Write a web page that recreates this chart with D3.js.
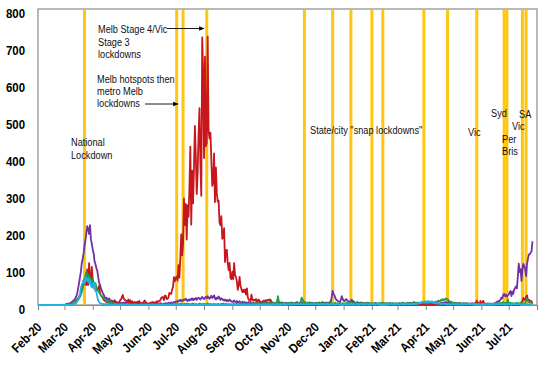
<!DOCTYPE html>
<html><head><meta charset="utf-8">
<script src="https://cdn.jsdelivr.net/npm/d3@7"></script>
<style>
html,body{margin:0;padding:0;background:#fff;}
svg{display:block;}
</style></head><body>
<svg id="chart" width="548" height="366"></svg>
<script>
// ---- DATA (daily new cases, one inner array per month) ----
const months = ["2020-02","2020-03","2020-04","2020-05","2020-06","2020-07","2020-08","2020-09","2020-10","2020-11","2020-12","2021-01","2021-02","2021-03","2021-04","2021-05","2021-06","2021-07"];

const nswDaily = [
[0,0,0,0,0,0,0,0,0,0,0,0,0,0,0,0,0,0,0,0,0,0,0,0,0,0,0,1,0],
[0,1,2,3,4,3,5,6,8,10,12,15,18,24,32,45,59,75,90,113,125,140,160,175,195,213,205,192,216,178,165],
[150,140,118,110,100,92,76,60,55,45,38,32,28,22,18,20,15,14,18,12,10,12,8,10,7,6,9,5,7,6],
[5,4,6,3,7,5,4,8,6,5,3,4,6,5,4,3,5,7,4,3,5,4,6,3,2,4,3,5,4,3,2],
[3,2,4,3,2,5,3,4,2,3,4,2,3,5,4,3,2,4,3,5,4,3,6,4,5,7,5,6,8,7],
[9,10,8,12,11,14,10,13,12,15,14,17,13,11,15,12,16,14,18,13,17,15,19,14,18,20,17,15,19,22,18],
[16,20,22,18,24,20,17,21,25,19,22,26,18,15,20,17,23,19,14,18,16,13,15,12,14,10,13,11,15,12,9],
[10,8,12,9,7,11,6,8,10,7,5,9,6,8,4,7,5,6,8,4,5,7,3,6,4,5,3,6,4,5],
[4,6,3,5,7,4,8,5,6,3,4,7,5,9,6,4,5,3,6,8,4,5,7,3,4,6,5,3,4,6,5],
[4,6,3,5,7,4,5,3,6,4,8,5,3,6,4,5,7,3,4,6,5,3,4,6,7,5,4,6,3,5],
[4,6,5,3,7,4,6,5,8,4,6,5,7,4,6,5,8,10,22,38,30,26,18,14,12,10,9,8,14,24,16],
[12,10,14,16,12,10,8,9,12,14,8,10,7,5,6,8,4,6,5,7,3,5,6,4,5,3,6,4,5,3,4],
[3,4,2,5,3,4,3,2,4,3,5,2,3,4,2,3,5,3,4,2,3,4,3,5,2,3,4,3],
[4,3,5,2,4,6,3,5,4,3,2,4,5,3,6,4,3,5,8,4,6,3,5,4,6,3,7,5,4,6,3],
[5,4,6,3,5,4,3,6,4,5,3,4,6,5,4,3,5,4,6,5,7,4,8,6,5,9,6,4,5,3],
[4,6,3,5,4,3,6,4,5,3,4,2,5,4,3,5,4,2,3,4,3,5,2,4,3,2,4,3,5,2,3],
[2,3,4,2,3,2,4,3,2,3,4,2,3,4,2,5,6,8,10,9,12,14,20,18,28,30,24,28,22,26],
[28,34,38,24,36,30,42,46,50,45,77,112,89,97,65,97,111,105,98,78,110,124,136,137,141,145,172]
];

const vicDaily = [
[0,0,0,0,0,0,0,0,0,0,0,0,0,0,0,0,0,0,0,0,0,0,0,0,0,0,0,0,0],
[0,1,0,2,1,2,1,3,2,4,3,6,9,13,14,18,23,27,30,50,51,67,56,58,54,96,54,113,75,55,103],
[68,50,60,38,46,40,45,52,30,26,22,20,14,12,10,9,7,8,6,3,4,3,6,7,13,8,4,5,2,6],
[13,15,22,27,17,14,12,11,8,15,7,13,6,10,8,5,8,4,6,9,7,11,4,6,5,3,9,12,8,5,4],
[3,5,4,7,6,8,5,7,4,10,8,9,12,12,19,21,21,13,25,25,16,17,20,33,30,30,41,49,75,64],
[73,77,66,108,74,127,191,134,165,288,216,273,177,270,238,317,428,217,363,275,374,484,403,300,357,459,532,384,295,723,627],
[397,671,429,439,725,471,450,466,394,322,331,410,278,372,303,279,282,222,216,240,179,182,208,116,148,149,113,94,114,73,70],
[90,70,113,81,76,63,41,55,76,51,43,35,41,35,42,28,45,21,14,14,11,28,15,12,14,12,16,5,13,15],
[8,9,8,4,12,11,12,13,11,14,12,15,14,6,3,2,1,2,1,4,1,3,1,0,7,0,2,2,3,1,1],
[0,0,1,0,0,0,0,0,0,0,0,0,0,0,0,0,0,0,0,0,0,0,0,0,0,0,0,0,0,0],
[0,1,0,0,1,0,2,1,0,1,0,0,1,0,2,1,0,1,0,0,1,0,2,1,0,1,3,1,2,3,2],
[3,2,1,2,1,0,1,2,1,0,1,2,1,0,1,0,1,2,0,1,0,1,0,1,0,1,0,1,0,2,1],
[0,0,1,1,1,0,0,1,2,3,2,5,5,4,2,3,2,1,1,0,0,0,0,0,1,0,0,1],
[0,1,0,0,1,0,0,1,0,0,1,0,0,1,0,0,1,0,0,1,0,0,1,0,0,1,0,0,1,0,0],
[0,1,0,0,1,0,0,1,0,0,1,0,0,1,0,0,1,0,0,1,0,0,1,0,0,1,0,0,1,0],
[0,0,1,0,0,0,1,0,0,0,1,0,0,0,1,0,0,0,1,0,0,0,0,1,5,6,12,4,5,1,11],
[4,5,11,6,2,3,0,4,2,1,1,1,2,0,0,3,0,1,0,0,1,0,0,1,0,0,1,0,0,0],
[0,0,1,0,0,0,0,0,0,0,0,0,0,2,7,10,19,16,13,22,26,14,14,12,11,10,4]
];

const qldDaily = [
[0,0,0,0,0,0,0,0,0,0,0,0,0,0,0,0,0,0,0,0,0,0,0,0,0,0,0,0,0],
[0,1,0,2,1,2,3,2,4,5,3,6,8,10,12,15,18,22,28,35,45,55,68,80,90,78,82,70,75,62,58],
[70,62,55,58,48,42,38,34,30,26,24,22,18,17,14,10,12,8,9,6,7,5,4,5,3,4,2,3,2,3],
[2,1,3,1,2,0,1,2,1,0,1,2,0,1,1,0,2,1,0,1,0,1,2,0,1,0,1,0,2,1,0],
[1,0,2,1,0,1,3,1,0,2,1,0,1,2,1,0,1,0,2,1,0,1,2,1,0,1,2,0,1,3],
[2,1,3,2,1,4,2,3,1,2,3,1,4,2,3,2,1,3,2,4,2,1,3,2,1,2,4,3,1,2,3],
[2,3,1,2,4,2,1,3,2,1,2,3,1,2,1,3,2,1,2,3,2,4,1,2,3,2,1,3,2,1,2],
[1,2,3,1,2,4,2,1,3,2,5,3,2,4,3,2,1,3,2,4,3,5,2,6,4,3,5,4,6,3],
[4,3,5,2,6,4,3,5,2,4,6,3,5,4,3,6,4,5,3,8,24,10,6,4,5,3,6,4,5,3,4],
[3,5,4,6,3,5,4,3,6,4,5,3,4,6,8,20,14,10,8,6,5,7,4,5,3,6,4,5,3,4],
[3,5,4,3,6,4,5,3,4,6,3,5,4,3,5,4,3,6,4,5,3,4,6,3,5,4,3,5,4,3,5],
[4,3,5,4,6,3,5,4,8,6,4,3,5,4,6,3,4,5,3,4,6,3,5,4,3,5,4,3,6,4,3],
[4,5,3,4,6,3,5,4,3,5,4,3,6,4,5,3,4,5,3,4,6,3,5,4,3,4,5,3],
[4,3,5,4,3,6,4,5,3,4,5,6,4,5,3,4,6,5,4,6,5,4,7,5,4,6,5,8,6,5,4],
[5,6,4,7,5,8,6,5,7,6,8,9,7,10,12,9,11,14,12,16,13,15,18,14,16,12,10,8,9,7],
[6,5,4,6,3,5,4,3,5,4,3,4,5,3,4,2,3,4,3,2,4,3,2,3,4,2,3,2,4,3,2],
[2,3,2,4,3,2,3,2,4,3,2,3,2,3,4,2,3,4,3,5,4,6,5,4,8,5,4,6,5,15],
[5,4,6,3,5,4,3,5,4,6,3,5,4,6,5,4,3,5,6,12,18,10,8,6,5,4,5]
];

const otherDaily = [
[0,0,0,0,0,0,0,0,0,0,0,0,0,0,0,0,0,0,0,0,0,0,0,0,0,0,0,0,0],
[0,0,0,0,0,0,0,0,0,1,2,3,4,6,9,14,20,30,45,55,60,66,58,70,75,64,72,60,68,52,48],
[58,45,60,42,35,22,12,8,5,4,3,3,2,2,2,2,3,1,2,1,2,1,0,1,2,1,0,1,0,1],
[1,0,1,2,0,1,0,1,1,0,2,1,0,1,0,1,2,0,1,0,1,0,1,0,2,1,0,1,0,1,0],
[0,1,0,1,2,0,1,0,1,0,1,2,1,0,1,0,2,1,0,1,0,1,2,1,0,1,0,1,2,1],
[1,0,2,1,0,1,2,1,0,1,2,1,0,1,2,0,1,2,1,0,1,2,1,0,1,2,1,0,1,2,1],
[0,1,2,1,0,1,2,1,0,1,1,0,2,1,0,1,2,1,0,1,0,1,2,1,0,1,0,2,1,0,1],
[1,0,2,1,0,1,2,1,0,1,2,1,0,1,2,1,0,1,2,1,0,1,2,1,0,1,2,1,0,1],
[2,1,0,1,2,1,3,1,0,2,1,2,0,1,2,3,1,0,2,1,3,2,1,0,2,1,3,2,1,2,1],
[2,1,3,2,1,2,3,1,2,1,3,2,1,2,3,2,1,3,2,1,2,3,1,2,3,2,1,2,3,2],
[1,2,3,2,1,2,3,2,1,3,2,1,2,3,2,1,2,3,2,1,3,2,1,2,3,2,1,2,3,2,1],
[2,3,2,1,3,2,1,2,3,2,1,3,2,1,2,3,2,1,2,3,2,1,3,2,1,2,3,2,1,2,3],
[2,1,3,2,1,2,3,2,1,2,3,2,1,3,2,1,2,3,2,1,2,3,2,1,3,2,1,2],
[3,2,1,2,3,2,1,3,2,1,2,3,2,1,3,2,3,2,4,3,2,4,3,5,4,6,5,7,8,9,8],
[10,8,9,11,7,9,8,10,6,7,5,6,4,5,3,4,3,2,3,4,3,2,3,2,1,3,2,1,2,3],
[2,1,3,2,1,2,3,2,1,2,3,1,2,3,2,1,2,3,2,1,2,3,1,2,3,2,1,2,3,2,1],
[2,3,2,1,2,3,2,1,3,2,1,2,3,2,1,2,3,2,1,2,3,2,1,2,3,2,1,3,2,1],
[2,3,2,1,2,3,2,1,3,2,1,2,3,2,1,2,3,2,1,2,3,2,1,2,3,2,1]
];

const yTickValues = [0,100,200,300,400,500,600,700,800];
const lockdownDates = ["2020-03-23","2020-07-02","2020-07-09","2020-08-04","2020-11-19","2020-12-20","2021-01-09","2021-02-01","2021-02-13","2021-03-30","2021-04-25","2021-05-27","2021-06-26","2021-06-29","2021-07-16","2021-07-20"];

// ---- LAYOUT ----
const L = 38, R = 537, T = 9, B = 305;
const svg = d3.select("#chart");
const x = d3.scaleUtc().domain([new Date(Date.UTC(2020,1,1)), new Date(Date.UTC(2021,7,1))]).range([L, R]);
const y = d3.scaleLinear().domain([0, 800]).range([B, T]);
const parse = d3.utcParse("%Y-%m-%d");

function toPoints(monthly) {
  const pts = [];
  monthly.forEach((vals, mi) => {
    const [yy, mm] = months[mi].split("-").map(Number);
    vals.forEach((v, di) => pts.push({date: new Date(Date.UTC(yy, mm - 1, di + 1)), v}));
  });
  return pts;
}

const font = "'Liberation Sans',Arial,sans-serif";

// frame
svg.append("rect").attr("x", L).attr("y", T).attr("width", R - L).attr("height", B - T)
  .attr("fill", "none").attr("stroke", "#8a8a8a").attr("stroke-width", 1.2);

// x axis
const xAxis = d3.axisBottom(x)
  .tickValues(d3.utcMonth.range(new Date(Date.UTC(2020,1,1)), new Date(Date.UTC(2021,7,2))))
  .tickSize(5)
  .tickFormat(d => d.getUTCFullYear() === 2021 && d.getUTCMonth() === 7 ? "" : d3.utcFormat("%b-%y")(d));
const gx = svg.append("g").attr("transform", `translate(0,${B})`).call(xAxis);
gx.select(".domain").attr("stroke", "#8a8a8a").attr("stroke-width", 1.2);
gx.selectAll(".tick line").attr("stroke", "#8a8a8a");
gx.selectAll(".tick text")
  .attr("x", 0).attr("y", 0).attr("dy", 0)
  .attr("text-anchor", "end")
  .attr("transform", "translate(4,23) rotate(-45) scale(0.86,1)")
  .style("font-family", font).style("font-weight", "bold").style("font-size", "13px").attr("fill", "#000");

// y labels
svg.append("g").selectAll("text").data(yTickValues).join("text")
  .attr("transform", d => `translate(25,${y(d) + 4.5}) scale(0.88,1)`)
  .attr("dy", "0.35em")
  .attr("text-anchor", "end")
  .style("font-family", font).style("font-weight", "bold").style("font-size", "13px")
  .text(d => d);

// lockdown lines
svg.append("g").selectAll("line").data(lockdownDates).join("line")
  .attr("x1", d => x(parse(d))).attr("x2", d => x(parse(d)))
  .attr("y1", T + 1).attr("y2", B)
  .attr("stroke", "#FFC60F").attr("stroke-width", 3);

// series
const line = d3.line().x(d => x(d.date)).y(d => y(d.v));
const series = [
  {data: nswDaily, color: "#7030A0"},
  {data: vicDaily, color: "#C8161D"},
  {data: qldDaily, color: "#1E9E48"},
  {data: otherDaily, color: "#1EB4E8"}
];
series.forEach(s => {
  svg.append("path").datum(toPoints(s.data))
    .attr("d", line).attr("fill", "none")
    .attr("stroke", s.color).attr("stroke-width", 1.8).attr("stroke-linejoin", "round");
});

// annotations
const defs = svg.append("defs");
defs.append("marker").attr("id", "arr").attr("viewBox", "0 0 10 10").attr("refX", 9).attr("refY", 5)
  .attr("markerWidth", 6).attr("markerHeight", 6).attr("orient", "auto")
  .append("path").attr("d", "M0,1 L10,5 L0,9 Z").attr("fill", "#000");

const notes = [
  {t: "Melb Stage 4/Vic", x: 98, y: 33},
  {t: "Stage 3", x: 98, y: 46},
  {t: "lockdowns", x: 98, y: 58},
  {t: "Melb hotspots then", x: 97, y: 83},
  {t: "metro Melb", x: 97, y: 95},
  {t: "lockdowns", x: 97, y: 107},
  {t: "National", x: 71, y: 146},
  {t: "Lockdown", x: 71, y: 159},
  {t: "State/city \"snap lockdowns\"", x: 310, y: 134},
  {t: "Vic", x: 468, y: 136},
  {t: "Syd", x: 491, y: 117},
  {t: "SA", x: 519, y: 118},
  {t: "Vic", x: 512, y: 130},
  {t: "Per", x: 502, y: 143},
  {t: "Bris", x: 502, y: 155}
];
svg.append("g").selectAll("text").data(notes).join("text")
  .attr("transform", d => `translate(${d.x},${d.y}) scale(0.8,1)`)
  .style("font-family", font).style("font-size", "11.5px").attr("fill", "#111")
  .text(d => d.t);

const arrows = [
  {x1: 167, y1: 28.5, x2: 204, y2: 28.5},
  {x1: 145, y1: 104, x2: 178, y2: 104}
];
svg.append("g").selectAll("line").data(arrows).join("line")
  .attr("x1", d => d.x1).attr("y1", d => d.y1).attr("x2", d => d.x2).attr("y2", d => d.y2)
  .attr("stroke", "#000").attr("stroke-width", 0.9).attr("marker-end", "url(#arr)");
</script>
</body></html>
